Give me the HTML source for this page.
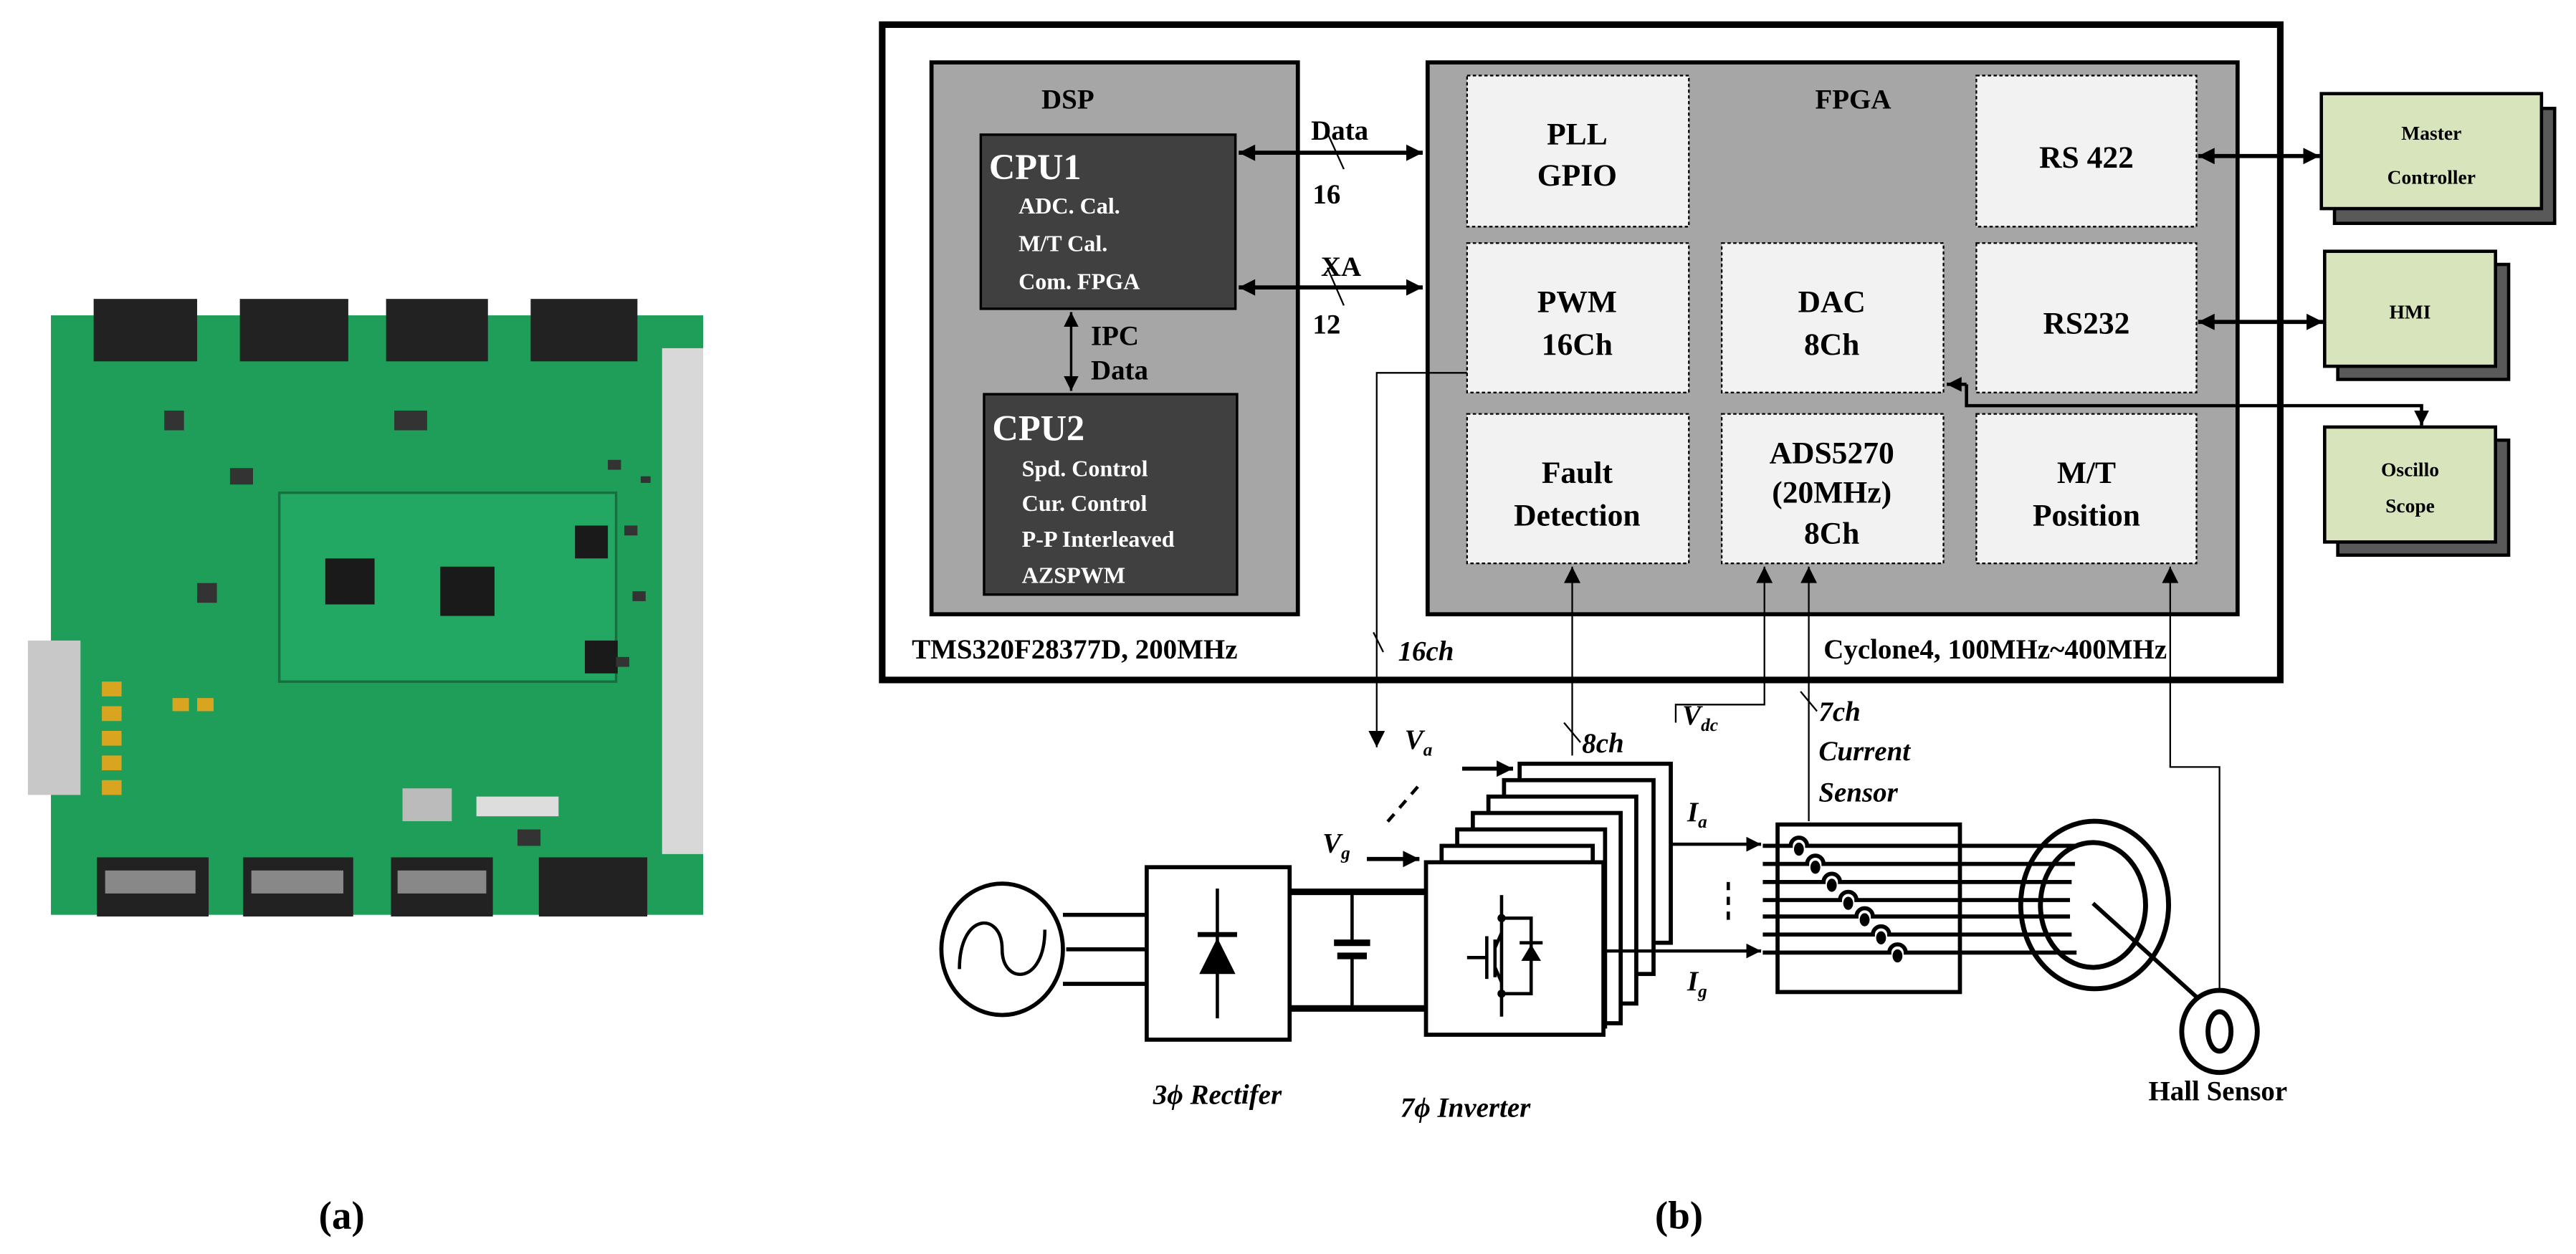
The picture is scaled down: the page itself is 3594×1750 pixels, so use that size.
<!DOCTYPE html>
<html><head><meta charset="utf-8"><style>
html,body{margin:0;padding:0;background:#fff;}
svg{display:block;}
text{font-family:"Liberation Serif",serif;font-weight:bold;}
</style></head><body>
<svg width="3594" height="1750" viewBox="0 0 1568 763.5" preserveAspectRatio="none" xmlns="http://www.w3.org/2000/svg">
<defs>
<marker id="ah" viewBox="0 0 10 10" refX="10" refY="5" markerWidth="9" markerHeight="9" markerUnits="userSpaceOnUse" orient="auto-start-reverse"><path d="M0,0 L10,5 L0,10 z" fill="#000"/></marker>
<marker id="ahl" viewBox="0 0 10 10" refX="10" refY="5" markerWidth="14" markerHeight="10" markerUnits="userSpaceOnUse" orient="auto-start-reverse"><path d="M0,0 L10,5 L0,10 z" fill="#000"/></marker>
</defs>
<!-- (a) PCB photo approximation -->
<g>
<rect x="31" y="192" width="397" height="365" fill="#1e9e58"/>
<rect x="170" y="300" width="205" height="115" fill="#22a862" stroke="#157040" stroke-width="1.5"/>
<rect x="198" y="340" width="30" height="28" fill="#1a1a1a"/>
<rect x="268" y="345" width="33" height="30" fill="#1a1a1a"/>
<rect x="350" y="320" width="20" height="20" fill="#1a1a1a"/>
<rect x="356" y="390" width="20" height="20" fill="#1a1a1a"/>
<rect x="245" y="480" width="30" height="20" fill="#bbb"/>
<rect x="290" y="485" width="50" height="12" fill="#ddd"/>
<g fill="#222"><rect x="57" y="182" width="63" height="38"/><rect x="146" y="182" width="66" height="38"/><rect x="235" y="182" width="62" height="38"/><rect x="323" y="182" width="65" height="38"/>
<rect x="59" y="522" width="68" height="36"/><rect x="148" y="522" width="67" height="36"/><rect x="238" y="522" width="62" height="36"/><rect x="328" y="522" width="66" height="36"/></g>
<g fill="#888"><rect x="64" y="530" width="55" height="14"/><rect x="153" y="530" width="56" height="14"/><rect x="242" y="530" width="54" height="14"/></g>
<rect x="403" y="212" width="25" height="308" fill="#d8d8d8"/>
<rect x="17" y="390" width="32" height="94" fill="#c8c8c8"/>
<g fill="#d9a520"><rect x="62" y="415" width="12" height="9"/><rect x="62" y="430" width="12" height="9"/><rect x="62" y="445" width="12" height="9"/><rect x="62" y="460" width="12" height="9"/><rect x="62" y="475" width="12" height="9"/><rect x="105" y="425" width="10" height="8"/><rect x="120" y="425" width="10" height="8"/></g>
<g fill="#333"><rect x="390" y="290" width="6" height="4"/><rect x="370" y="280" width="8" height="6"/><rect x="380" y="320" width="8" height="6"/><rect x="385" y="360" width="8" height="6"/><rect x="375" y="400" width="8" height="6"/><rect x="100" y="250" width="12" height="12"/><rect x="120" y="355" width="12" height="12"/><rect x="140" y="285" width="14" height="10"/><rect x="240" y="250" width="20" height="12"/><rect x="315" y="505" width="14" height="10"/></g>
<text x="208" y="748" font-size="24" text-anchor="middle" font-weight="normal">(<tspan font-weight="bold">a</tspan>)</text>
</g>

<!-- (b) -->
<rect x="537" y="15" width="851" height="399" fill="#fff" stroke="#000" stroke-width="4"/>
<!-- DSP -->
<rect x="567" y="38" width="223" height="336" fill="#a6a6a6" stroke="#000" stroke-width="2.5"/>
<text x="650" y="66" font-size="17" text-anchor="middle">DSP</text>
<rect x="597" y="82" width="155" height="106" fill="#404040" stroke="#000" stroke-width="1.5"/>
<text x="602" y="109" font-size="22" fill="#fff" font-weight="normal">CPU1</text>
<text x="620" y="130" font-size="14" fill="#fff">ADC. Cal.</text>
<text x="620" y="153" font-size="14" fill="#fff">M/T Cal.</text>
<text x="620" y="176" font-size="14" fill="#fff">Com. FPGA</text>
<rect x="599" y="240" width="154" height="122" fill="#404040" stroke="#000" stroke-width="1.5"/>
<text x="604" y="268" font-size="22" fill="#fff" font-weight="normal">CPU2</text>
<text x="622" y="290" font-size="14" fill="#fff">Spd. Control</text>
<text x="622" y="311" font-size="14" fill="#fff">Cur. Control</text>
<text x="622" y="333" font-size="14" fill="#fff">P-P Interleaved</text>
<text x="622" y="355" font-size="14" fill="#fff">AZSPWM</text>
<line x1="652" y1="190" x2="652" y2="238" stroke="#000" stroke-width="1.5" marker-start="url(#ah)" marker-end="url(#ah)"/>
<text x="664" y="210" font-size="17">IPC</text>
<text x="664" y="231" font-size="17">Data</text>
<text x="555" y="401" font-size="17">TMS320F28377D, 200MHz</text>
<!-- Data / XA -->
<line x1="754" y1="93" x2="866" y2="93" stroke="#000" stroke-width="2.5" marker-start="url(#ahl)" marker-end="url(#ahl)"/>
<line x1="808" y1="81" x2="818" y2="103" stroke="#000" stroke-width="1"/>
<text x="798" y="85" font-size="17">Data</text>
<text x="799" y="124" font-size="17">16</text>
<line x1="754" y1="175" x2="866" y2="175" stroke="#000" stroke-width="2.5" marker-start="url(#ahl)" marker-end="url(#ahl)"/>
<line x1="808" y1="163" x2="818" y2="186" stroke="#000" stroke-width="1"/>
<text x="804" y="168" font-size="17">XA</text>
<text x="799" y="203" font-size="17">12</text>
<!-- FPGA -->
<rect x="869" y="38" width="493" height="336" fill="#a6a6a6" stroke="#000" stroke-width="2.5"/>
<text x="1128" y="66" font-size="17" text-anchor="middle">FPGA</text>
<g fill="#f2f2f2" stroke="#000" stroke-width="1" stroke-dasharray="2,1.5">
<rect x="893" y="46" width="135" height="92"/>
<rect x="1203" y="46" width="134" height="92"/>
<rect x="893" y="148" width="135" height="91"/>
<rect x="1048" y="148" width="135" height="91"/>
<rect x="1203" y="148" width="134" height="91"/>
<rect x="893" y="252" width="135" height="91"/>
<rect x="1048" y="252" width="135" height="91"/>
<rect x="1203" y="252" width="134" height="91"/>
</g>
<g font-size="19" text-anchor="middle">
<text x="960" y="88">PLL</text><text x="960" y="113">GPIO</text>
<text x="1270" y="102">RS 422</text>
<text x="960" y="190">PWM</text><text x="960" y="216">16Ch</text>
<text x="1115" y="190">DAC</text><text x="1115" y="216">8Ch</text>
<text x="1270" y="203">RS232</text>
<text x="960" y="294">Fault</text><text x="960" y="320">Detection</text>
<text x="1115" y="282">ADS5270</text><text x="1115" y="306">(20MHz)</text><text x="1115" y="331">8Ch</text>
<text x="1270" y="294">M/T</text><text x="1270" y="320">Position</text>
</g>
<text x="1110" y="401" font-size="17">Cyclone4, 100MHz~400MHz</text>
<!-- external boxes -->
<g stroke="#000" stroke-width="2">
<rect x="1421" y="66" width="134" height="70" fill="#595959"/>
<rect x="1413" y="57" width="134" height="70" fill="#d8e4bc"/>
<rect x="1423" y="161" width="104" height="70" fill="#595959"/>
<rect x="1415" y="153" width="104" height="70" fill="#d8e4bc"/>
<rect x="1423" y="268" width="104" height="70" fill="#595959"/>
<rect x="1415" y="260" width="104" height="70" fill="#d8e4bc"/>
</g>
<g font-size="12" text-anchor="middle">
<text x="1480" y="85">Master</text><text x="1480" y="112">Controller</text>
<text x="1467" y="194">HMI</text>
<text x="1467" y="290">Oscillo</text><text x="1467" y="312">Scope</text>
</g>
<line x1="1338" y1="95" x2="1412" y2="95" stroke="#000" stroke-width="2.5" marker-start="url(#ahl)" marker-end="url(#ahl)"/>
<line x1="1338" y1="196" x2="1414" y2="196" stroke="#000" stroke-width="2.5" marker-start="url(#ahl)" marker-end="url(#ahl)"/>
<polyline points="1197,234 1197,247 1474,247 1474,259" fill="none" stroke="#000" stroke-width="2" marker-end="url(#ah)"/>
<line x1="1197" y1="234" x2="1185" y2="234" stroke="#000" stroke-width="2" marker-end="url(#ah)"/>
<!-- connections to plant -->
<polyline points="893,227 838,227 838,455" fill="none" stroke="#000" stroke-width="1" marker-end="url(#ahl)"/>
<line x1="836" y1="385" x2="842" y2="397" stroke="#000" stroke-width="1"/>
<text x="851" y="402" font-size="17" font-style="italic">16ch</text>
<line x1="957" y1="460" x2="957" y2="345" stroke="#000" stroke-width="1" marker-end="url(#ahl)"/>
<line x1="952" y1="440" x2="962" y2="452" stroke="#000" stroke-width="1"/>
<text x="963" y="458" font-size="17" font-style="italic">8ch</text>
<polyline points="1020,440 1020,429 1074,429 1074,345" fill="none" stroke="#000" stroke-width="1" marker-end="url(#ahl)"/>
<text x="1024" y="441" font-size="17" font-style="italic">V<tspan font-size="11" dy="4">dc</tspan></text>
<line x1="1101" y1="500" x2="1101" y2="345" stroke="#000" stroke-width="1" marker-end="url(#ahl)"/>
<line x1="1096" y1="421" x2="1106" y2="433" stroke="#000" stroke-width="1"/>
<text x="1107" y="439" font-size="17" font-style="italic">7ch</text>
<text x="1107" y="463" font-size="17" font-style="italic">Current</text>
<text x="1107" y="488" font-size="17" font-style="italic">Sensor</text>
<polyline points="1351,605 1351,467 1321,467 1321,345" fill="none" stroke="#000" stroke-width="1" marker-end="url(#ahl)"/>
<text x="855" y="456" font-size="17" font-style="italic">V<tspan font-size="11" dy="4">a</tspan></text>
<text x="805" y="519" font-size="17" font-style="italic">V<tspan font-size="11" dy="4">g</tspan></text>
<line x1="863" y1="479" x2="844" y2="501" stroke="#000" stroke-width="2" stroke-dasharray="6,5"/>
<line x1="832" y1="523" x2="864" y2="523" stroke="#000" stroke-width="2.5" marker-end="url(#ahl)"/>
<line x1="890" y1="468" x2="921" y2="468" stroke="#000" stroke-width="2.5" marker-end="url(#ahl)"/>
<!-- source -->
<ellipse cx="610" cy="578" rx="37" ry="40" fill="#fff" stroke="#000" stroke-width="2.5"/>
<path d="M584,590 C584,555 610,555 610,578 C610,600 636,600 636,566" fill="none" stroke="#000" stroke-width="2"/>
<g stroke="#000" stroke-width="2.5">
<line x1="647" y1="557" x2="698" y2="557"/><line x1="649" y1="578" x2="698" y2="578"/><line x1="647" y1="599" x2="698" y2="599"/>
</g>
<!-- rectifier -->
<rect x="698" y="528" width="87" height="105" fill="#fff" stroke="#000" stroke-width="2.5"/>
<line x1="741" y1="541" x2="741" y2="620" stroke="#000" stroke-width="2"/>
<path d="M730,593 L752,593 L741,571 z" fill="#000"/>
<line x1="729" y1="569" x2="753" y2="569" stroke="#000" stroke-width="3"/>
<!-- DC link -->
<g stroke="#000" stroke-width="4">
<line x1="785" y1="543" x2="868" y2="543"/><line x1="785" y1="614" x2="868" y2="614"/>
</g>
<line x1="823" y1="543" x2="823" y2="574" stroke="#000" stroke-width="2"/>
<line x1="823" y1="582" x2="823" y2="614" stroke="#000" stroke-width="2"/>
<line x1="812" y1="574" x2="834" y2="574" stroke="#000" stroke-width="4"/>
<line x1="814" y1="582" x2="832" y2="582" stroke="#000" stroke-width="4"/>
<!-- inverter stack -->
<g fill="#fff" stroke="#000" stroke-width="2.5">
<rect x="925" y="465" width="92" height="109"/>
<rect x="915.5" y="475" width="91" height="118"/>
<rect x="906" y="485" width="90" height="126"/>
<rect x="896.5" y="495" width="90" height="128"/>
<rect x="887" y="505" width="90" height="120"/>
<rect x="877.5" y="515" width="92" height="112"/>
<rect x="868" y="525" width="108" height="105"/>
</g>
<!-- IGBT -->
<g stroke="#000" stroke-width="2" fill="none">
<line x1="914" y1="545" x2="914" y2="619"/>
<line x1="893" y1="583" x2="905" y2="583"/>
<line x1="905" y1="570" x2="905" y2="596"/>
<line x1="910" y1="572" x2="910" y2="595"/>
<polyline points="910,589 914,598"/>
<polyline points="914,559 932,559 932,605 914,605"/>
</g>
<line x1="910" y1="577" x2="914" y2="568" stroke="#000" stroke-width="2"/>
<path d="M926,585 L938,585 L932,575 z" fill="#000"/>
<line x1="925" y1="574" x2="939" y2="574" stroke="#000" stroke-width="2"/>
<circle cx="914" cy="559" r="2.5" fill="#000"/><circle cx="914" cy="605" r="2.5" fill="#000"/>
<!-- Ia / Ig -->
<line x1="1017" y1="514" x2="1072" y2="514" stroke="#000" stroke-width="2" marker-end="url(#ah)"/>
<line x1="976" y1="579" x2="1072" y2="579" stroke="#000" stroke-width="2" marker-end="url(#ah)"/>
<line x1="1052" y1="537" x2="1052" y2="564" stroke="#000" stroke-width="2" stroke-dasharray="5,4"/>
<text x="1027" y="500" font-size="17" font-style="italic">I<tspan font-size="11" dy="4">a</tspan></text>
<text x="1027" y="603" font-size="17" font-style="italic">I<tspan font-size="11" dy="4">g</tspan></text>
<!-- current sensor -->
<rect x="1082" y="502" width="111" height="102" fill="#fff" stroke="#000" stroke-width="2.5"/>
<g stroke="#000" stroke-width="2.5" fill="none">
<path d="M1073,515 H1090 a5,5 0 0 1 10,0 H1265"/>
<path d="M1073,526 H1100 a5,5 0 0 1 10,0 H1263"/>
<path d="M1073,537 H1110 a5,5 0 0 1 10,0 H1261"/>
<path d="M1073,548 H1120 a5,5 0 0 1 10,0 H1260"/>
<path d="M1073,558 H1130 a5,5 0 0 1 10,0 H1260"/>
<path d="M1073,569 H1140 a5,5 0 0 1 10,0 H1261"/>
<path d="M1073,580 H1150 a5,5 0 0 1 10,0 H1264"/>
</g>
<g fill="#000">
<ellipse cx="1095" cy="517" rx="3" ry="4"/><ellipse cx="1105" cy="528" rx="3" ry="4"/><ellipse cx="1115" cy="539" rx="3" ry="4"/><ellipse cx="1125" cy="550" rx="3" ry="4"/><ellipse cx="1135" cy="560" rx="3" ry="4"/><ellipse cx="1145" cy="571" rx="3" ry="4"/><ellipse cx="1155" cy="582" rx="3" ry="4"/>
</g>
<!-- motor -->
<ellipse cx="1275" cy="551" rx="45" ry="51" fill="none" stroke="#000" stroke-width="3"/>
<ellipse cx="1274" cy="551" rx="32" ry="38" fill="none" stroke="#000" stroke-width="3"/>
<line x1="1274" y1="550" x2="1337" y2="607" stroke="#000" stroke-width="2.5"/>
<ellipse cx="1351" cy="628" rx="23" ry="25" fill="#fff" stroke="#000" stroke-width="3"/>
<ellipse cx="1351" cy="628" rx="7" ry="12" fill="none" stroke="#000" stroke-width="3"/>
<text x="741" y="672" font-size="17" font-style="italic" text-anchor="middle">3ϕ Rectifer</text>
<text x="892" y="680" font-size="17" font-style="italic" text-anchor="middle">7ϕ Inverter</text>
<text x="1350" y="670" font-size="17" text-anchor="middle">Hall Sensor</text>
<text x="1022" y="748" font-size="24" text-anchor="middle" font-weight="normal">(<tspan font-weight="bold">b</tspan>)</text>
</svg>
</body></html>
